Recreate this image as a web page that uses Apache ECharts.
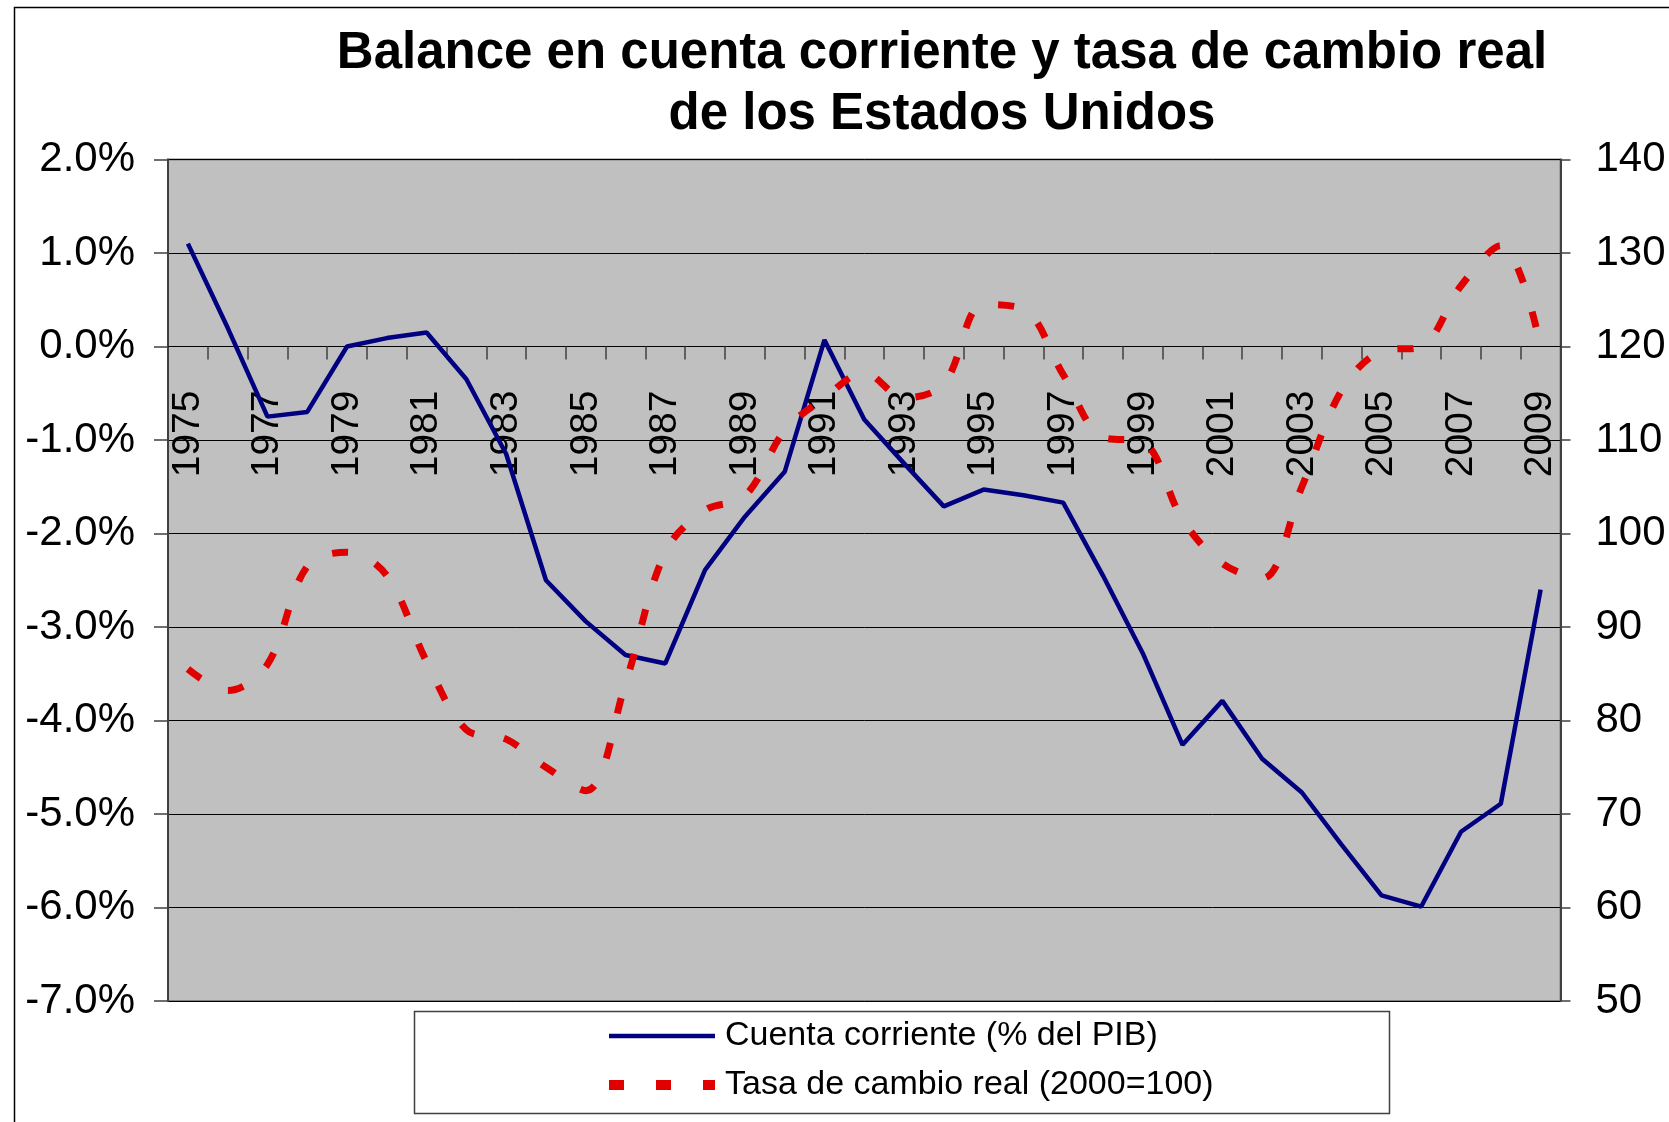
<!DOCTYPE html>
<html lang="es">
<head>
    <meta charset="UTF-8">
    <title>Balance en cuenta corriente y tasa de cambio real</title>
    <style>
        html, body { margin: 0; padding: 0; background: #fff; }
    </style>
</head>
<body>
<div id="main" style="width:1669px;height:1122px;"></div>

<script src="https://cdn.jsdelivr.net/npm/echarts@6/dist/echarts.min.js"></script>
<script>
    // años
    var years = ['1975', '1976', '1977', '1978', '1979', '1980', '1981', '1982', '1983', '1984',
        '1985', '1986', '1987', '1988', '1989', '1990', '1991', '1992', '1993', '1994',
        '1995', '1996', '1997', '1998', '1999', '2000', '2001', '2002', '2003', '2004',
        '2005', '2006', '2007', '2008', '2009'];

    // cuenta corriente, % del PIB
    var cuentaCorriente = [1.1, 0.2, -0.75, -0.7, 0.0, 0.09, 0.15, -0.35, -1.15, -2.5,
        -2.94, -3.3, -3.39, -2.39, -1.82, -1.34, 0.07, -0.78, -1.25, -1.71,
        -1.53, -1.59, -1.67, -2.45, -3.28, -4.26, -3.79, -4.41, -4.77, -5.33,
        -5.87, -5.99, -5.19, -4.89, -2.6];

    // tasa de cambio real, 2000=100
    var tasaCambio = [85.5, 83.2, 86, 96.5, 98, 95.5, 86.3, 79, 78, 75,
        72.5, 84, 98, 102.5, 104, 111, 114.5, 117.2, 114.5, 116,
        124.5, 124, 117, 110.3, 109.8, 101.5, 96.8, 95.2, 105, 115.3,
        119.5, 120, 126.5, 130.8, 120];

    var nombres = ['Cuenta corriente (% del PIB)', 'Tasa de cambio real (2000=100)'];

    var fuente = '"Liberation Sans", Arial, sans-serif';

    var myChart = echarts.init(document.getElementById('main'));
    myChart.setOption({
        animation: false,
        backgroundColor: '#fff',
        textStyle: {fontFamily: fuente, color: '#000'},
        title: {
            text: 'Balance en cuenta corriente y tasa de cambio real\nde los Estados Unidos',
            left: 937,
            top: 18,
            textAlign: 'center',
            textStyle: {
                fontFamily: fuente,
                fontSize: 51,
                fontWeight: 'bold',
                lineHeight: 61,
                color: '#000'
            }
        },
        graphic: [
            {
                type: 'rect',
                z: 0,
                shape: {x: 14.5, y: 7.5, width: 1700, height: 1200},
                style: {fill: 'none', stroke: '#000', lineWidth: 1.5}
            },
            {
                type: 'rect',
                z: 0,
                shape: {x: 414.5, y: 1011.5, width: 975, height: 102},
                style: {fill: '#fff', stroke: '#404040', lineWidth: 1.5}
            }
        ],
        legend: {
            z: 10,
            orient: 'vertical',
            left: 599,
            top: 1012,
            itemWidth: 106,
            itemHeight: 20,
            itemGap: 11,
            // sólo la línea, sin el círculo del símbolo
            itemStyle: {opacity: 0},
            data: [
                {name: nombres[0], lineStyle: {width: 4.5, color: '#000080', type: 'solid'}},
                {name: nombres[1], lineStyle: {width: 10, color: '#E00000', type: [15, 32]}}
            ],
            textStyle: {
                fontFamily: fuente,
                fontSize: 34,
                lineHeight: 38,
                color: '#000',
                padding: [0, 0, 0, 5]
            }
        },
        grid: {
            left: 168,
            right: 108.5,
            top: 159.5,
            bottom: 121,
            containLabel: false,
            outerBoundsMode: 'none',
            show: true,
            backgroundColor: '#C0C0C0',
            borderColor: '#808080',
            borderWidth: 2
        },
        xAxis: {
            type: 'category',
            data: years,
            boundaryGap: true,
            position: 'bottom',
            offset: 0,
            axisLine: {
                onZero: false,
                lineStyle: {color: '#000', width: 1}
            },
            axisTick: {
                show: true,
                length: 13,
                interval: 0,
                lineStyle: {color: '#404040', width: 1.5}
            },
            axisLabel: {
                interval: 1,
                rotate: 90,
                margin: 44,
                fontFamily: fuente,
                fontSize: 39,
                color: '#000'
            },
            splitLine: {show: false}
        },
        yAxis: [
            {
                type: 'value',
                min: -7,
                max: 2,
                interval: 1,
                position: 'left',
                axisLine: {show: true, lineStyle: {color: '#404040', width: 2}},
                axisTick: {show: true, length: 14, lineStyle: {color: '#404040', width: 1.5}},
                axisLabel: {
                    margin: 33,
                    fontFamily: fuente,
                    fontSize: 42,
                    color: '#000',
                    formatter: function (v) { return v.toFixed(1) + '%'; }
                },
                splitLine: {show: true, lineStyle: {color: '#000', width: 1}}
            },
            {
                type: 'value',
                min: 50,
                max: 140,
                interval: 10,
                position: 'right',
                axisLine: {show: true, lineStyle: {color: '#404040', width: 2}},
                axisTick: {show: true, length: 10, lineStyle: {color: '#404040', width: 1.5}},
                axisLabel: {
                    margin: 35,
                    fontFamily: fuente,
                    fontSize: 42,
                    color: '#000'
                },
                splitLine: {show: false}
            }
        ],
        series: [
            {
                name: nombres[0],
                type: 'line',
                yAxisIndex: 0,
                data: cuentaCorriente,
                symbol: 'none',
                smooth: false,
                z: 3,
                itemStyle: {color: '#000080'},
                lineStyle: {color: '#000080', width: 4.5}
            },
            {
                name: nombres[1],
                type: 'line',
                yAxisIndex: 1,
                data: tasaCambio,
                symbol: 'none',
                smooth: 0.35,
                z: 4,
                itemStyle: {color: '#E00000'},
                lineStyle: {color: '#E00000', width: 7, type: [16, 30], cap: 'butt'}
            }
        ]
    });

    // el eje de categorías cruza en 0.0%: se sube desde el borde inferior
    var yCero = myChart.convertToPixel({yAxisIndex: 0}, 0);
    var yMin = myChart.convertToPixel({yAxisIndex: 0}, -7);
    myChart.setOption({xAxis: {offset: -(yMin - yCero)}});
</script>
</body>
</html>
